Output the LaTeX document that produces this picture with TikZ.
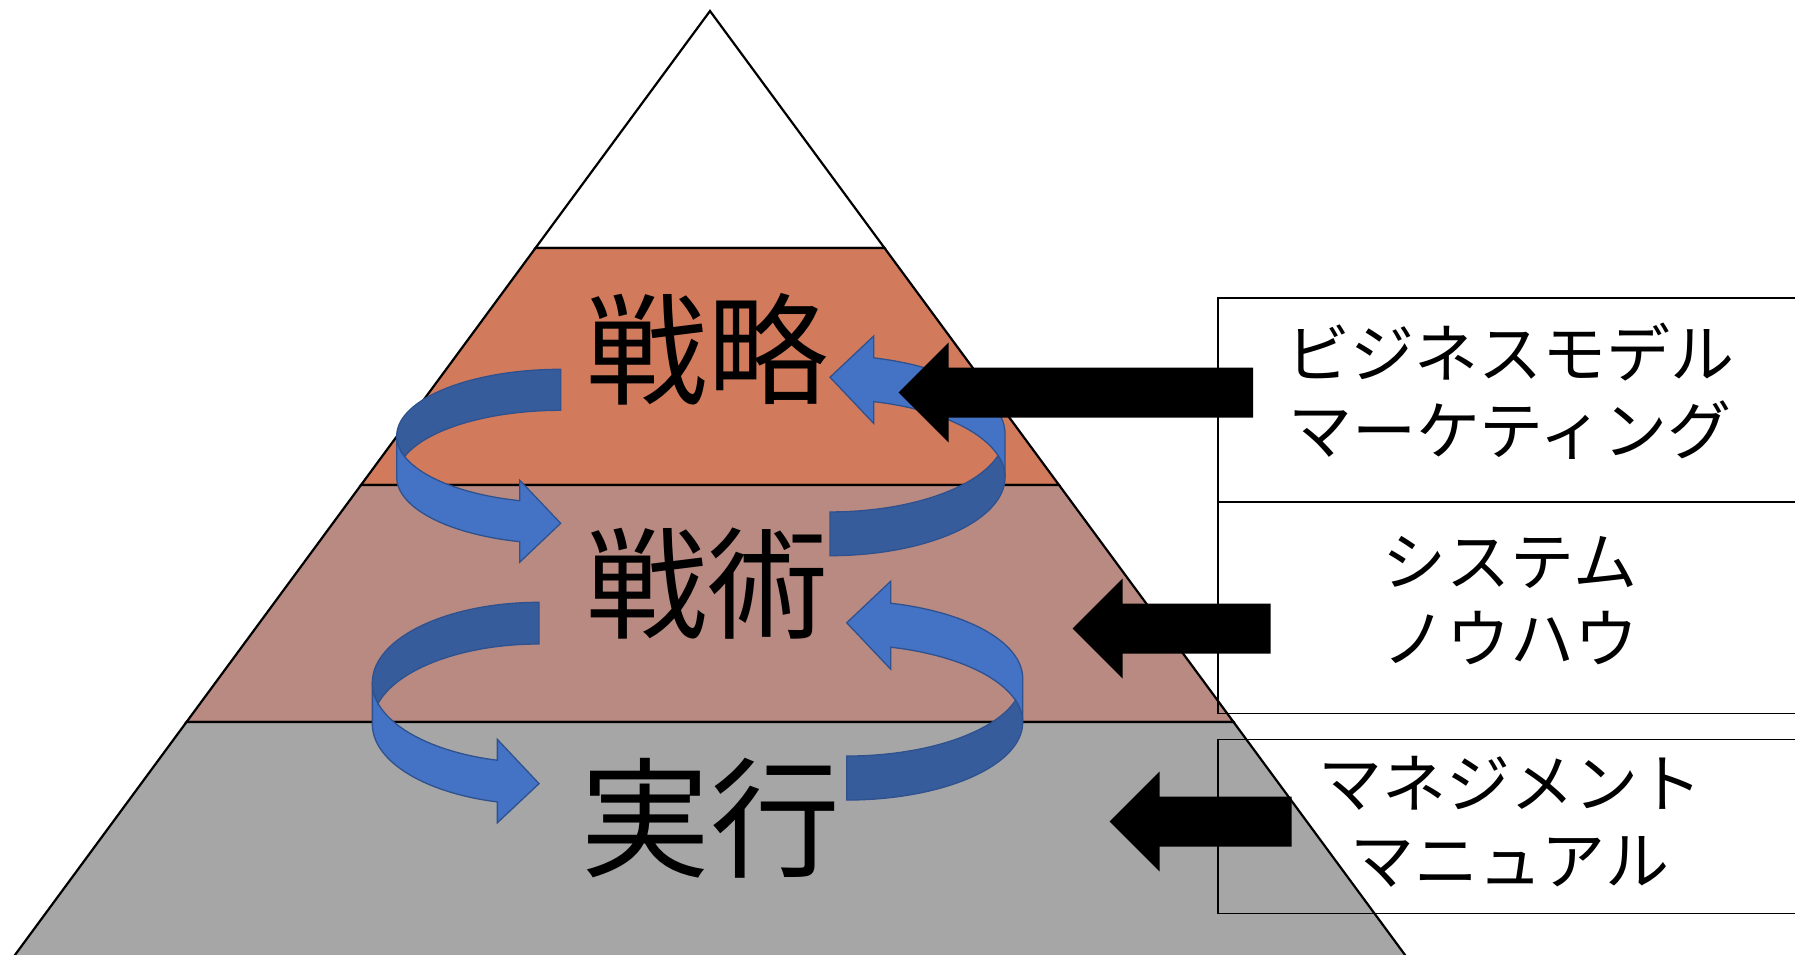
\documentclass[tikz,border=0pt]{standalone}
\usepackage{fontspec}
\setmainfont{Noto Sans CJK JP}
\usetikzlibrary{calc}

\definecolor{strat}{RGB}{209,123,92}
\definecolor{tact}{RGB}{185,138,130}
\definecolor{exec}{RGB}{166,166,166}
\definecolor{ribbonlight}{RGB}{68,114,196}
\definecolor{ribbondark}{RGB}{54,92,156}
\definecolor{ribbonline}{RGB}{47,82,143}

\newcommand{\ribbon}[5]{%
  \pgfmathsetmacro{\caW}{#3}
  \pgfmathsetmacro{\caH}{#4}
  \pgfmathsetmacro{\caTh}{min(#3,#4)/4}
  \pgfmathsetmacro{\caAw}{min(#3,#4)/2}
  \pgfmathsetmacro{\caHR}{#4/2-(\caTh+\caAw)/4}
  \pgfmathsetmacro{\caAl}{acos(\caTh/#3)}
  \pgfmathsetmacro{\caYf}{\caHR+\caHR*sin(\caAl)}
  \pgfmathsetmacro{\caDh}{(\caAw-\caTh)/2}
  \pgfmathsetmacro{\caGa}{asin(\caTh/(2*\caHR))}
  \begin{scope}[shift={(#1,#2)},rotate=#5,shift={(-#3/2,-#4/2)}]
    \filldraw[ribbon, fill=ribbonlight]
      plot[domain=180:180-\caAl] ({\caW+\caW*cos(\x)},{\caHR+\caHR*sin(\x)})
      -- (\caW-\caTh,\caYf-\caDh) -- (\caW,\caH-\caAw/2) -- (\caW-\caTh,\caYf+\caTh+\caDh)
      -- plot[domain=180-\caAl:180] ({\caW+\caW*cos(\x)},{\caHR+\caTh+\caHR*sin(\x)}) -- cycle;
    \filldraw[ribbon, fill=ribbondark] (\caW,\caTh)
      -- plot[domain=270:180+\caGa] ({\caW+\caW*cos(\x)},{\caHR+\caTh+\caHR*sin(\x)})
      -- plot[domain=180-\caGa:270] ({\caW+\caW*cos(\x)},{\caHR+\caHR*sin(\x)}) -- cycle;
  \end{scope}}

\newcommand{\bigarrow}[2]{%
  \fill (#1) -- ++(50,-50) -- ++(0,25) -- ++(#2,0) -- ++(0,50) -- ++(-#2,0) -- ++(0,25) -- cycle;}

\begin{document}
\begin{tikzpicture}[x=1pt,y=-1pt,
    ribbon/.style={draw=ribbonline, line width=1.3pt, samples=60},
    level/.style={font=\fontsize{121}{121}\selectfont},
    infobox/.style={draw, line width=1.6pt, inner sep=0pt, minimum width=584pt},
    boxlabel/.style={align=center, font=\fontsize{64}{77}\selectfont}]
            \useasboundingbox (0,0) rectangle (1795,955);
            \clip (0,0) rectangle (1795,955);
            \fill[white] (0,0) rectangle (1795,955);

            \coordinate (A) at (710,11);
            \coordinate (BL) at (12,959);
            \coordinate (BR) at (1408,959);
            \foreach \i/\col in {0/white,1/strat,2/tact,3/exec}{
                \pgfmathsetmacro{\fa}{\i/4}
                \pgfmathsetmacro{\fb}{(\i+1)/4}
                \filldraw[fill=\col, line width=2.2pt] ($(A)!\fa!(BL)$) -- ($(A)!\fb!(BL)$) -- ($(A)!\fb!(BR)$) -- ($(A)!\fa!(BR)$) -- cycle;
            }

            \node[infobox, minimum height=204.5pt] (bizbox) at (1510,400) {};
            \node[infobox, minimum height=211.3pt] (sysbox) at (1510,607.8) {};
            \node[infobox, minimum height=173.8pt] (mgmtbox) at (1510,826.5) {};
            \node[boxlabel] (biztext) at ([yshift=9pt]bizbox.center) {ビジネスモデル\\マーケティング};
            \node[boxlabel] (systext) at ([yshift=7pt]sysbox.center) {システム\\ノウハウ};
            \node[boxlabel] (mgmttext) at ([yshift=5pt]mgmtbox.center) {マネジメント\\マニュアル};

            \node[level] (senryaku) at (707,349) {戦略};
            \node[level] (senjutsu) at (707,584) {戦術};
            \node[level, font=\fontsize{130}{130}\selectfont] (jikkou) at (710,818) {実行};

            \ribbon{478.7}{466.8}{164}{195}{0}
            \ribbon{455.7}{713.8}{166.7}{223}{0}
            \ribbon{917.5}{444.6}{175}{222.2}{180}
            \ribbon{934.7}{689.4}{176}{221.3}{180}

            \coordinate (tip1) at (898.5,392.5);
            \coordinate (tip2) at (1072.5,628.5);
            \coordinate (tip3) at (1109.5,821.5);
            \bigarrow{tip1}{304.5}
            \bigarrow{tip2}{148}
            \bigarrow{tip3}{132}
        \end{tikzpicture}
\end{document}
